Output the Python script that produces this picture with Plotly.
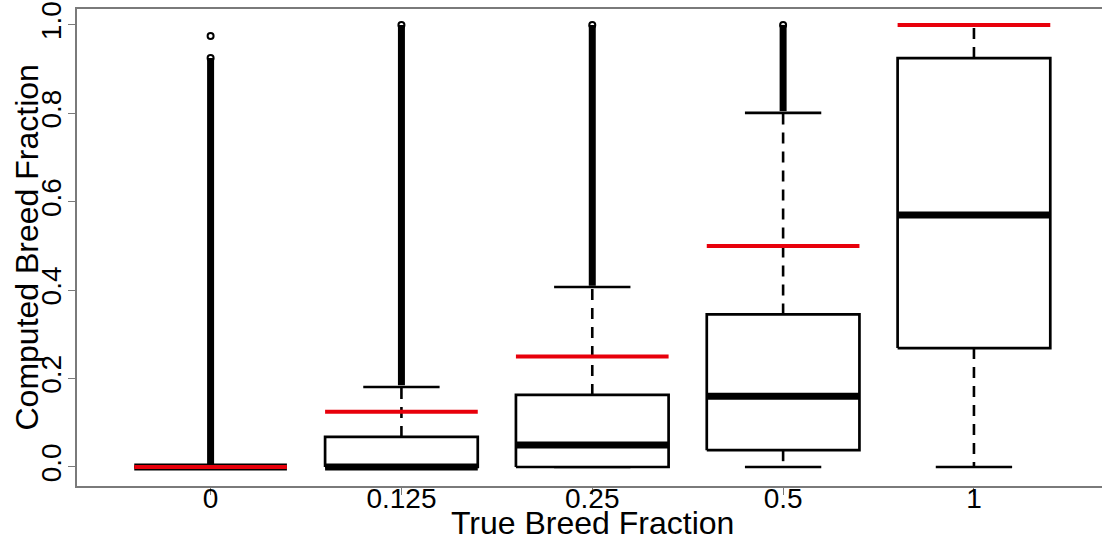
import plotly.graph_objects as go

# Five simulated groups, one per true breed fraction
categories = ["0", "0.125", "0.25", "0.5", "1"]
true_fraction = [0.0, 0.125, 0.25, 0.5, 1.0]

# Box-plot summary of the computed breed fraction in each group
whisker_lo = [0.0, 0.0, 0.0, 0.0, 0.0]
q1 = [0.0, 0.0, 0.0, 0.038, 0.269]
median = [0.0, 0.0, 0.050, 0.160, 0.570]
q3 = [0.0, 0.068, 0.163, 0.345, 0.925]
whisker_hi = [0.0, 0.181, 0.407, 0.801, 1.0]

# Outliers form a dense column from just above the upper whisker to the top
outlier_lo = [0.005, 0.185, 0.410, 0.805, None]
outlier_hi = [0.925, 1.0, 1.0, 1.0, None]
# Separate, isolated outliers: (group index, value)
outlier_single_group = [0]
outlier_single_value = [0.975]

BOX_HALF = 0.4      # box width 0.8
STAPLE_HALF = 0.2   # whisker caps at half the box width
FONT = "Arial, Liberation Sans, sans-serif"
FRAME = "#7a7a7a"

fig = go.Figure()

pos = [i + 1 for i in range(len(categories))]

# dashed whiskers (from the box edges outward)
wx, wy = [], []
for p, a, b, c, d in zip(pos, whisker_lo, q1, q3, whisker_hi):
    if d > c:
        wx += [p, p, None]
        wy += [c, d, None]
    if b > a:
        wx += [p, p, None]
        wy += [b, a, None]
fig.add_trace(go.Scatter(x=wx, y=wy, mode="lines",
                         line=dict(color="black", width=2.6, dash="11px,8px"),
                         hoverinfo="skip", showlegend=False))

# whisker caps
sx, sy = [], []
for p, a, d in zip(pos, whisker_lo, whisker_hi):
    for v in (a, d):
        sx += [p - STAPLE_HALF, p + STAPLE_HALF, None]
        sy += [v, v, None]
fig.add_trace(go.Scatter(x=sx, y=sy, mode="lines",
                         line=dict(color="black", width=2.6),
                         hoverinfo="skip", showlegend=False))

# boxes
for p, b, c in zip(pos, q1, q3):
    fig.add_trace(go.Scatter(
        x=[p - BOX_HALF, p + BOX_HALF, p + BOX_HALF, p - BOX_HALF, p - BOX_HALF],
        y=[b, b, c, c, b], mode="lines", fill="toself", fillcolor="white",
        line=dict(color="black", width=2.7), hoverinfo="skip", showlegend=False))

# medians
mx, my = [], []
for p, m in zip(pos, median):
    mx += [p - BOX_HALF, p + BOX_HALF, None]
    my += [m, m, None]
fig.add_trace(go.Scatter(x=mx, y=my, mode="lines",
                         line=dict(color="black", width=7),
                         hoverinfo="skip", showlegend=False))

# outlier columns
ox, oy = [], []
ex, ey = [], []
for p, lo, hi in zip(pos, outlier_lo, outlier_hi):
    if lo is None:
        continue
    ox += [p, p, None]
    oy += [lo, hi, None]
    ex.append(p)
    ey.append(hi)
for g, v in zip(outlier_single_group, outlier_single_value):
    ex.append(pos[g])
    ey.append(v)
fig.add_trace(go.Scatter(x=ox, y=oy, mode="lines",
                         line=dict(color="black", width=7),
                         hoverinfo="skip", showlegend=False))
fig.add_trace(go.Scatter(x=ex, y=ey, mode="markers",
                         marker=dict(symbol="circle-open", size=6, color="black",
                                     line=dict(width=2, color="black")),
                         hoverinfo="skip", showlegend=False))

# true fraction reference lines
rx, ry = [], []
for p, t in zip(pos, true_fraction):
    rx += [p - BOX_HALF, p + BOX_HALF, None]
    ry += [t, t, None]
fig.add_trace(go.Scatter(x=rx, y=ry, mode="lines",
                         line=dict(color="#e8000b", width=4),
                         hoverinfo="skip", showlegend=False))

y_ticks = [0.0, 0.2, 0.4, 0.6, 0.8, 1.0]

fig.update_layout(
    width=1102, height=543,
    margin=dict(l=77, r=0, t=9, b=57),
    paper_bgcolor="white", plot_bgcolor="white",
    font=dict(family=FONT, color="black"),
    xaxis=dict(range=[0.3, 5.671], tickvals=pos, ticktext=categories,
               showgrid=False, zeroline=False, showline=True, mirror=True,
               linecolor=FRAME, linewidth=1.6, ticks="outside", ticklen=7,
               tickcolor=FRAME, tickwidth=1.4, tickfont=dict(size=28),
               ticklabelstandoff=-20, fixedrange=True),
    yaxis=dict(range=[-0.043, 1.036], tickvals=y_ticks,
               ticktext=[f"{v:.1f}" for v in y_ticks], tickangle=-90,
               showgrid=False, zeroline=False, showline=True,
               linecolor=FRAME, linewidth=1.6, ticks="outside", ticklen=7,
               tickcolor=FRAME, tickwidth=1.4, tickfont=dict(size=28),
               ticklabelstandoff=-4, fixedrange=True),
    annotations=[
        dict(text="True Breed Fraction", xref="paper", yref="paper",
             x=(592 - 77) / 1025, y=0, yshift=-37, xanchor="center",
             yanchor="middle", showarrow=False, font=dict(size=32)),
        dict(text="Computed Breed Fraction", xref="paper", yref="paper",
             x=0, xshift=-51, y=0.5, xanchor="center", yanchor="middle",
             textangle=-90, showarrow=False, font=dict(size=32)),
    ],
)

fig.write_html("out.html")
